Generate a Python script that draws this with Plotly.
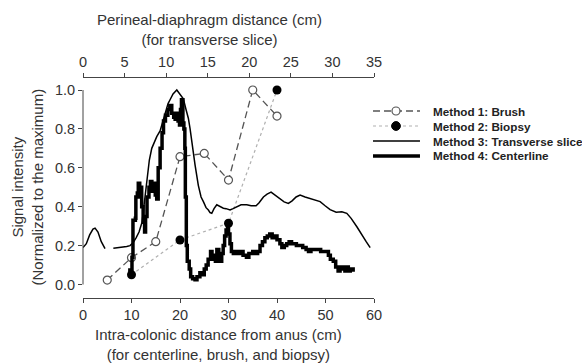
import plotly.graph_objects as go

# ---- data ----
brush_x = [5, 10, 15, 20, 25, 30, 35, 40]
brush_y = [0.023, 0.138, 0.22, 0.657, 0.674, 0.537, 1.0, 0.866]

biopsy_x = [10, 20, 30, 40]
biopsy_y = [0.05, 0.229, 0.315, 1.0]

# transverse slice (top axis: perineal-diaphragm distance, cm); None = gap
trans_x = [0, 0.4, 0.8, 1.2, 1.45, 1.8, 2.2, 2.65, None,
           3.65, 4.45, 5.26, 5.66, 6.02, 6.38, 6.74, 7.1, 7.34, 7.58, 7.76, 7.98,
           8.27, 8.54, 8.87, 9.27, 9.63, 9.87, 10.23, 10.47, 10.83, 11.28, 11.67,
           12.07, 12.39, 12.67, 12.88, 13.08, 13.29, 13.48, 13.87, 14.2, 14.48,
           14.8, 15.08, 15.28, 15.49, 15.76, 16.09, 16.49, 16.88, 17.21, 17.69,
           18.05, 18.5, 19.01, 19.7, 20.22, 20.82, 21.18, 21.7, 22.14, 22.62,
           23.1, 23.71, 24.19, 24.7, 25.15, 25.63, 26.11, 26.71, 27.32, 27.92,
           28.52, 29.12, 29.72, 30.45, 31.13, 31.73, 32.25, 32.94, 33.45, 34.06, 34.54]
trans_y = [0.19, 0.21, 0.255, 0.285, 0.29, 0.27, 0.22, 0.185, None,
           0.186, 0.19, 0.195, 0.20, 0.215, 0.24, 0.27, 0.32, 0.40, 0.50, 0.55, 0.64,
           0.70, 0.73, 0.76, 0.79, 0.84, 0.88, 0.93, 0.95, 0.98, 1.0, 0.98,
           0.955, 0.90, 0.855, 0.80, 0.734, 0.67, 0.614, 0.51, 0.45, 0.426,
           0.395, 0.383, 0.37, 0.366, 0.39, 0.41, 0.40, 0.392, 0.39, 0.383,
           0.39, 0.40, 0.41, 0.41, 0.405, 0.405, 0.42, 0.45, 0.465, 0.475,
           0.46, 0.44, 0.425, 0.417, 0.43, 0.45, 0.46, 0.45, 0.443, 0.435,
           0.426, 0.405, 0.385, 0.372, 0.374, 0.366, 0.34, 0.297, 0.26, 0.22, 0.19]

# centerline (bottom axis: intra-colonic distance, cm)
center_x = [9.3, 9.7, 10.0, 10.1, 10.3, 10.3, 10.8, 10.9, 11.2, 11.4, 11.7, 11.9,
            12.1, 12.4, 12.7, 12.9, 13.2, 13.6, 13.9, 14.2, 14.5, 14.9, 15.2, 15.5,
            15.9, 16.3, 16.6, 17.0, 17.5, 17.9, 18.3, 18.7, 19.0, 19.3, 19.6, 19.9,
            20.1, 20.3, 20.6, 20.8, 21.0, 21.1, 21.3, 21.5, 21.9, 22.2, 22.6, 23.1,
            23.5, 24.1, 24.5, 25.0, 25.4, 25.8, 26.3, 26.6, 27.0, 27.3, 27.6, 28.0,
            28.3, 28.6, 28.9, 29.2, 29.5, 29.8, 30.0, 30.3, 30.6, 31.0, 31.5, 32.0,
            32.5, 33.0, 33.7, 34.2, 35.0, 35.5, 36.0, 36.5, 37.0, 37.5, 38.0, 38.5,
            39.0, 39.5, 40.0, 40.6, 41.0, 41.5, 42.0, 42.5, 43.0, 43.5, 44.0, 44.7,
            45.3, 46.0, 46.5, 47.0, 48.2, 49.0, 50.0, 50.6, 51.0, 51.6, 52.1, 52.6,
            53.0, 53.6, 54.0, 54.3, 54.7, 55.1, 55.7]
center_y = [0.075, 0.05, 0.06, 0.14, 0.25, 0.33, 0.34, 0.45, 0.47, 0.52, 0.45, 0.50,
            0.40, 0.32, 0.27, 0.35, 0.45, 0.50, 0.53, 0.48, 0.52, 0.46, 0.44, 0.60,
            0.70, 0.78, 0.84, 0.87, 0.90, 0.92, 0.88, 0.86, 0.85, 0.88, 0.84, 0.82,
            0.90, 0.95, 0.83, 0.80, 0.70, 0.45, 0.20, 0.12, 0.08, 0.04, 0.03, 0.025,
            0.04, 0.06, 0.05, 0.08, 0.10, 0.13, 0.17, 0.15, 0.13, 0.12, 0.18, 0.15,
            0.12, 0.16, 0.20, 0.25, 0.28, 0.30, 0.26, 0.21, 0.17, 0.16, 0.17, 0.16,
            0.17, 0.15, 0.14, 0.16, 0.17, 0.16, 0.17, 0.20, 0.22, 0.24, 0.25, 0.26,
            0.24, 0.25, 0.23, 0.21, 0.19, 0.20, 0.21, 0.22, 0.21, 0.21, 0.20, 0.20,
            0.19, 0.18, 0.17, 0.18, 0.18, 0.17, 0.17, 0.15, 0.13, 0.12, 0.09, 0.07,
            0.09, 0.08, 0.07, 0.09, 0.07, 0.08, 0.065]

legend_labels = ["Method 1: Brush", "Method 2: Biopsy",
                 "Method 3: Transverse slice", "Method 4: Centerline"]

bottom_ticks = [0, 10, 20, 30, 40, 50, 60]
top_ticks = [0, 5, 10, 15, 20, 25, 30, 35]
y_ticks = [0.0, 0.2, 0.4, 0.6, 0.8, 1.0]

FONT = "Liberation Sans, Arial, sans-serif"
TXT = "#333333"

BRUSH_LINE = dict(color="#555555", width=1.3, dash="7px,4px")
BIOPSY_LINE = dict(color="#b0b0b0", width=1.2, dash="dot")
TRANS_LINE = dict(color="black", width=1.5)
CENTER_LINE = dict(color="black", width=3.5)

fig = go.Figure()
fig.add_trace(go.Scatter(x=brush_x, y=brush_y, mode="lines+markers", name=legend_labels[0],
                         line=BRUSH_LINE,
                         marker=dict(symbol="circle", size=8, color="white",
                                     line=dict(color="#555555", width=1.2))))
fig.add_trace(go.Scatter(x=biopsy_x, y=biopsy_y, mode="lines+markers", name=legend_labels[1],
                         line=BIOPSY_LINE,
                         marker=dict(symbol="circle", size=9, color="black")))
fig.add_trace(go.Scatter(x=trans_x, y=trans_y, mode="lines", name=legend_labels[2],
                         xaxis="x2", connectgaps=False, line=TRANS_LINE))
fig.add_trace(go.Scatter(x=center_x, y=center_y, mode="lines", name=legend_labels[3],
                         line=dict(CENTER_LINE, shape="hv")))

axis_common = dict(showgrid=False, zeroline=False, ticks="outside", ticklen=4,
                   tickcolor="#444", linecolor="#444", linewidth=1,
                   tickfont=dict(family=FONT, size=14.5, color=TXT))

fig.update_layout(
    width=582, height=364,
    margin=dict(l=83, r=208, t=78, b=66, autoexpand=False),
    paper_bgcolor="white", plot_bgcolor="white",
    font=dict(family=FONT, color=TXT),
    xaxis=dict(range=[0, 60], tickvals=bottom_ticks, showline=True, **axis_common),
    xaxis2=dict(range=[0, 35], tickvals=top_ticks, overlaying="x", side="top",
                anchor="y", showline=True, **axis_common),
    yaxis=dict(range=[-0.0694, 1.0617], tickvals=y_ticks, tickformat=".1f",
               showline=False, **axis_common),
    showlegend=False,
)

# y axis line spanning 0..1 only
fig.add_shape(type="line", xref="paper", yref="y", x0=0, x1=0, y0=0, y1=1,
              line=dict(color="#444", width=1))

# ---- axis titles ----
def axis_title(x, y, text, angle=0):
    fig.add_annotation(xref="paper", yref="paper", x=x, y=y, showarrow=False,
                       xanchor="center", yanchor="middle", textangle=angle,
                       align="center", text=text,
                       font=dict(family=FONT, size=15, color=TXT))

axis_title(0.433, 1.2227, "Perineal-diaphragm distance (cm)<br>(for transverse slice)")
axis_title(0.464, -0.2136, "Intra-colonic distance from anus (cm)<br>(for centerline, brush, and biopsy)")
axis_title(-0.1907, 0.5045, "Signal intensity<br>(Normalized to the maximum)", -90)

# ---- legend (drawn as decorations in paper coordinates) ----
leg_x0, leg_x1, leg_xm, leg_xt = 0.9966, 1.158, 1.0756, 1.1959
leg_rows = [0.85, 0.7818, 0.7136, 0.6455]
leg_lines = [BRUSH_LINE, BIOPSY_LINE, TRANS_LINE, CENTER_LINE]
rx, ry = 4 / 291, 4 / 220
for i, (yy, ln, lab) in enumerate(zip(leg_rows, leg_lines, legend_labels)):
    fig.add_shape(type="line", xref="paper", yref="paper", x0=leg_x0, x1=leg_x1,
                  y0=yy, y1=yy, line=ln)
    if i == 0:
        fig.add_shape(type="circle", xref="paper", yref="paper",
                      x0=leg_xm - rx, x1=leg_xm + rx, y0=yy - ry, y1=yy + ry,
                      fillcolor="white", line=dict(color="#555555", width=1.2))
    elif i == 1:
        fig.add_shape(type="circle", xref="paper", yref="paper",
                      x0=leg_xm - rx * 1.1, x1=leg_xm + rx * 1.1,
                      y0=yy - ry * 1.1, y1=yy + ry * 1.1,
                      fillcolor="black", line=dict(color="black", width=1))
    fig.add_annotation(xref="paper", yref="paper", x=leg_xt, y=yy, showarrow=False,
                       xanchor="left", yanchor="middle", text=lab,
                       font=dict(family=FONT, size=11.7, color="#222222", weight="bold"))

fig.write_html("out.html")
